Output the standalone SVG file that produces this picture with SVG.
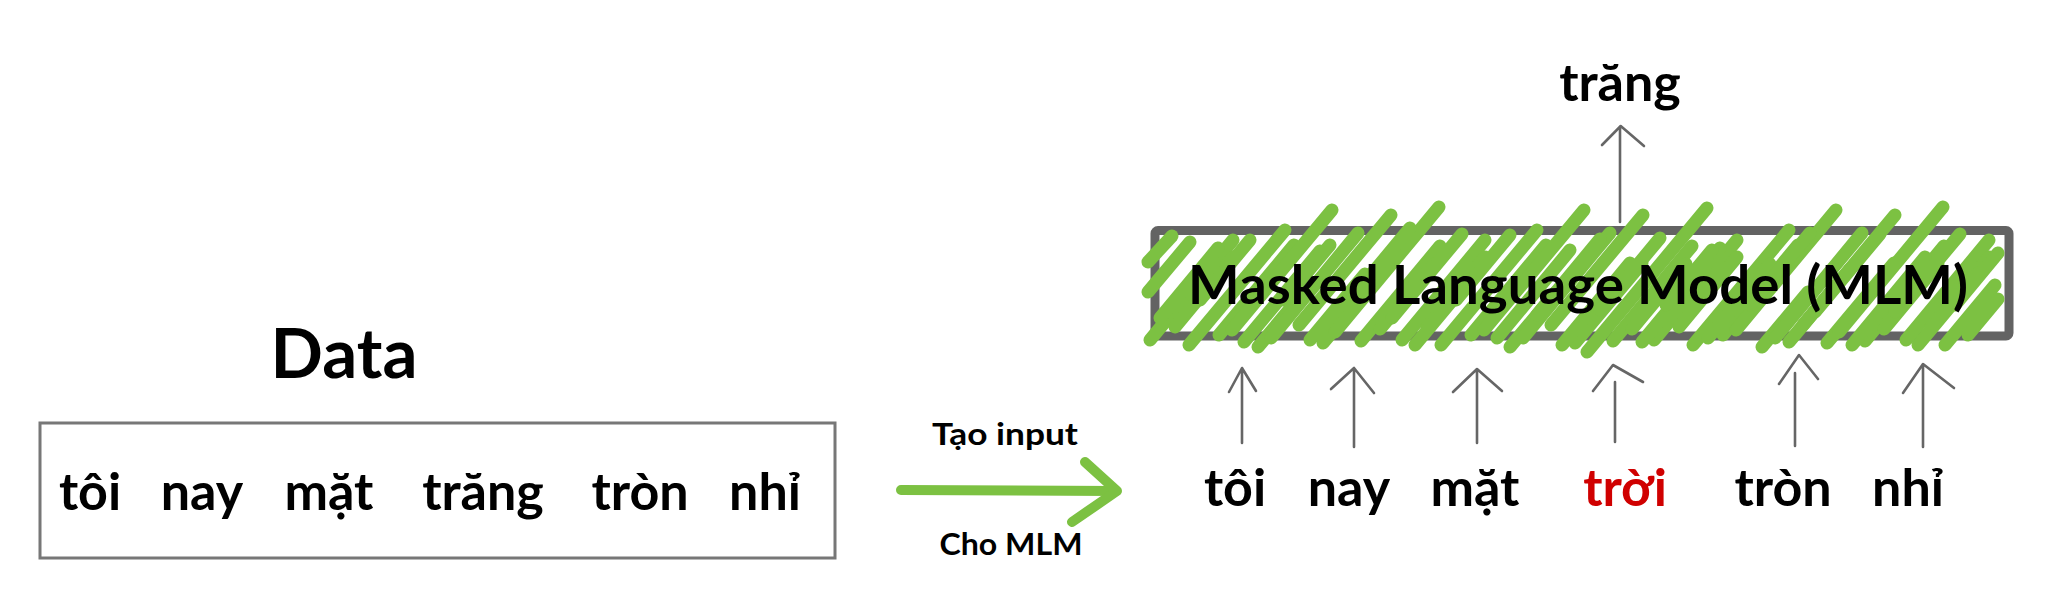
<svg xmlns="http://www.w3.org/2000/svg" width="2048" height="611" viewBox="0 0 2048 611">
<style>
.t{font-family:Lato,"Noto Sans",sans-serif;font-weight:bold;fill:#000;text-anchor:middle}
.w{font-size:52px}
.up{fill:none;stroke:#666;stroke-width:2.6;stroke-linecap:round;stroke-linejoin:round}
.hatch line{stroke:#7cc142;stroke-width:13;stroke-linecap:round}
</style>
<rect width="2048" height="611" fill="#fff"/>
<g id="data-title"><text class="t" x="344" y="378" font-size="69">Data</text></g>
<g id="data-box">
<rect x="40" y="423" width="795" height="135" fill="none" stroke="#777" stroke-width="3"/>
<text class="t w" x="90" y="510">tôi</text>
<text class="t w" x="202" y="510">nay</text>
<text class="t w" x="329" y="510">mặt</text>
<text class="t w" x="483" y="510">trăng</text>
<text class="t w" x="640" y="510">tròn</text>
<text class="t w" x="765" y="510">nhỉ</text>
</g>
<g id="transform-arrow">
<line x1="901" y1="490" x2="1116" y2="491" stroke="#7cc142" stroke-width="10" stroke-linecap="round"/>
<polyline points="1085,462 1117,491 1072,522" fill="none" stroke="#7cc142" stroke-width="10" stroke-linecap="round" stroke-linejoin="round"/>
<text class="t" x="1005" y="445" font-size="31" textLength="146" lengthAdjust="spacingAndGlyphs">Tạo input</text>
<text class="t" x="1011" y="555" font-size="31" textLength="143" lengthAdjust="spacingAndGlyphs">Cho MLM</text>
</g>
<g id="mlm">
<rect x="1155" y="230.5" width="854" height="105.5" rx="3" fill="#fff" stroke="#636363" stroke-width="9"/>
<g class="hatch">
<line x1="1148" y1="262" x2="1172" y2="236"/>
<line x1="1148" y1="292" x2="1190" y2="242"/>
<line x1="1150" y1="340" x2="1233" y2="240"/>
<line x1="1175" y1="327" x2="1233" y2="257"/>
<line x1="1189" y1="345" x2="1285" y2="230"/>
<line x1="1219" y1="335" x2="1294" y2="245"/>
<line x1="1232" y1="330" x2="1332" y2="210"/>
<line x1="1258" y1="347" x2="1304" y2="292"/>
<line x1="1271" y1="338" x2="1358" y2="233"/>
<line x1="1299" y1="325" x2="1391" y2="215"/>
<line x1="1323" y1="343" x2="1390" y2="263"/>
<line x1="1335" y1="332" x2="1439" y2="207"/>
<line x1="1361" y1="341" x2="1440" y2="246"/>
<line x1="1380" y1="329" x2="1434" y2="264"/>
<line x1="1402" y1="340" x2="1485" y2="240"/>
<line x1="1427" y1="327" x2="1485" y2="257"/>
<line x1="1441" y1="345" x2="1537" y2="230"/>
<line x1="1471" y1="335" x2="1546" y2="245"/>
<line x1="1484" y1="330" x2="1584" y2="210"/>
<line x1="1510" y1="347" x2="1556" y2="292"/>
<line x1="1523" y1="338" x2="1610" y2="233"/>
<line x1="1551" y1="325" x2="1643" y2="215"/>
<line x1="1575" y1="343" x2="1642" y2="263"/>
<line x1="1587" y1="352" x2="1707" y2="208"/>
<line x1="1613" y1="341" x2="1692" y2="246"/>
<line x1="1632" y1="329" x2="1686" y2="264"/>
<line x1="1654" y1="340" x2="1737" y2="240"/>
<line x1="1679" y1="327" x2="1737" y2="257"/>
<line x1="1693" y1="345" x2="1789" y2="230"/>
<line x1="1723" y1="335" x2="1798" y2="245"/>
<line x1="1736" y1="330" x2="1836" y2="210"/>
<line x1="1762" y1="347" x2="1808" y2="292"/>
<line x1="1775" y1="338" x2="1862" y2="233"/>
<line x1="1803" y1="325" x2="1895" y2="215"/>
<line x1="1827" y1="343" x2="1894" y2="263"/>
<line x1="1839" y1="332" x2="1943" y2="207"/>
<line x1="1865" y1="341" x2="1944" y2="246"/>
<line x1="1884" y1="329" x2="1938" y2="264"/>
<line x1="1906" y1="340" x2="1989" y2="240"/>
<line x1="1931" y1="327" x2="1989" y2="257"/>
<line x1="1945" y1="345" x2="1995" y2="285"/>
<line x1="1968" y1="335" x2="1998" y2="299"/>
<line x1="1160" y1="318" x2="1218" y2="248"/>
<line x1="1200" y1="300" x2="1250" y2="240"/>
<line x1="1244" y1="342" x2="1320" y2="251"/>
<line x1="1284" y1="300" x2="1330" y2="245"/>
<line x1="1310" y1="340" x2="1365" y2="274"/>
<line x1="1350" y1="300" x2="1410" y2="228"/>
<line x1="1392" y1="318" x2="1462" y2="234"/>
<line x1="1415" y1="345" x2="1470" y2="279"/>
<line x1="1456" y1="300" x2="1510" y2="235"/>
<line x1="1497" y1="338" x2="1570" y2="250"/>
<line x1="1537" y1="315" x2="1600" y2="239"/>
<line x1="1562" y1="345" x2="1630" y2="263"/>
<line x1="1600" y1="310" x2="1660" y2="238"/>
<line x1="1642" y1="342" x2="1720" y2="248"/>
<line x1="1666" y1="305" x2="1712" y2="250"/>
<line x1="1708" y1="338" x2="1770" y2="264"/>
<line x1="1750" y1="305" x2="1810" y2="233"/>
<line x1="1789" y1="342" x2="1850" y2="269"/>
<line x1="1815" y1="312" x2="1880" y2="234"/>
<line x1="1852" y1="345" x2="1925" y2="257"/>
<line x1="1895" y1="312" x2="1960" y2="234"/>
<line x1="1918" y1="345" x2="1978" y2="273"/>
<line x1="1955" y1="305" x2="1998" y2="253"/>
</g>
<text class="t" x="1578" y="304" font-size="54" textLength="780" lengthAdjust="spacingAndGlyphs">Masked Language Model (MLM)</text>
</g>
<g id="output-word"><text class="t w" x="1620" y="101">trăng</text></g>
<g id="input-words">
<text class="t w" x="1235" y="506">tôi</text>
<text class="t w" x="1349" y="506">nay</text>
<text class="t w" x="1475" y="506">mặt</text>
<text class="t w" x="1625" y="506" style="fill:#d00000">trời</text>
<text class="t w" x="1783" y="506">tròn</text>
<text class="t w" x="1908" y="506">nhỉ</text>
</g>
<g id="connectors">
<path class="up" d="M1620,222 V128 M1602,145 L1620.7,126 L1644,146"/>
<path class="up" d="M1242,443 V369 M1229,392 L1242,368 L1256,391"/>
<path class="up" d="M1354,447 V369 M1331,389 L1354,368 L1374,393"/>
<path class="up" d="M1477,443 V370 M1453,392 L1477,369 L1502,391"/>
<path class="up" d="M1615,442 V382 M1593,391 L1613,365 L1643,382"/>
<path class="up" d="M1795,446 V373 M1779,384 L1799,355 L1818,379"/>
<path class="up" d="M1923,447 V365 M1903,393 L1923,364 L1954,388"/>
</g>
</svg>
